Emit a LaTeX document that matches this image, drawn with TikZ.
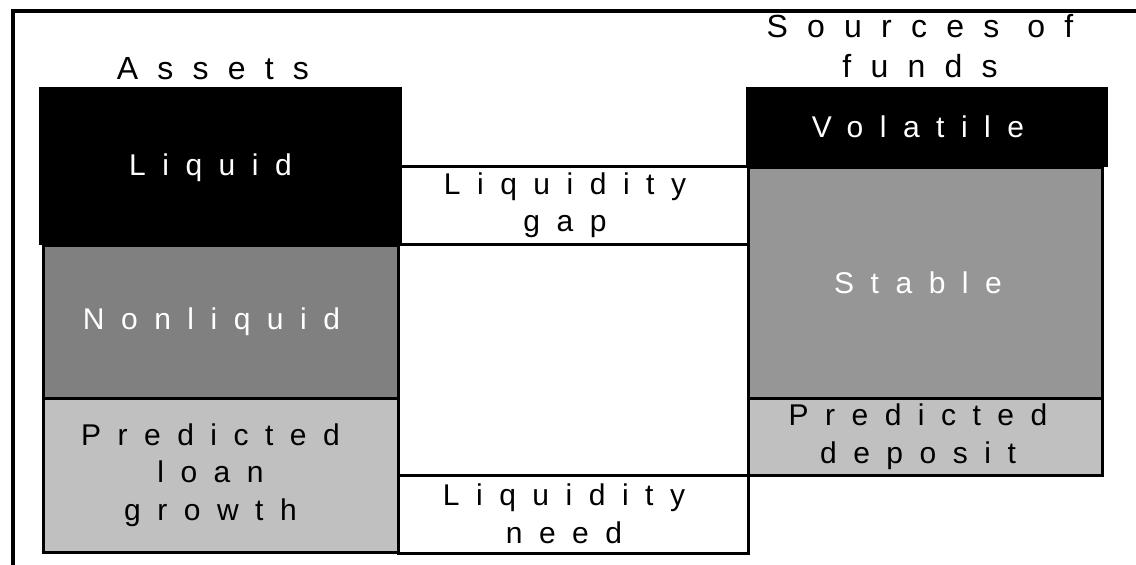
\documentclass[tikz,border=0pt]{standalone}
\usepackage{fontspec}
\setmainfont{Liberation Sans}
\newfontfamily\lsfont[LetterSpace=55]{Liberation Sans}
\newfontfamily\hdfont[LetterSpace=60]{Liberation Sans}
\definecolor{darkgr}{HTML}{808080}
\definecolor{midgr}{HTML}{969696}
\definecolor{lightgr}{HTML}{C0C0C0}
\begin{document}
\begin{tikzpicture}[x=1pt,y=-1pt,
  lbl/.style={font=\lsfont\fontsize{30}{37.5}\selectfont, align=center, inner sep=0pt},
  hdl/.style={font=\hdfont\fontsize{32}{40}\selectfont, align=center, inner sep=0pt},
  cell/.style={rectangle, inner sep=0pt, outer sep=0pt, line width=3pt},
  blackcell/.style={cell, fill=black},
  framed/.style={cell, draw=black},
]
\useasboundingbox (0,0) rectangle (1136,565);
\fill[white] (0,0) rectangle (1136,565);
% outer frame (top and left edges)
\draw[line width=4pt] (12.5,566) -- (12.5,10.5) -- (1137,10.5);
% headings
\node[hdl, anchor=base] (assets) at (213,79) {Assets};
\node[hdl] (sources) at (920,46) {Sources of\\funds};
% middle column
\node[framed, minimum width=350pt, minimum height=231pt] (midcol) at (573,359.5) {};
\node[framed, minimum width=350pt, minimum height=78pt] (need) at (573,514) {};
% assets column
\node[blackcell, minimum width=363pt, minimum height=158pt] (liquid) at (220.5,166) {};
\node[framed, fill=darkgr, minimum width=355pt, minimum height=153pt] (nonliquid) at (220.5,321.5) {};
\node[framed, fill=lightgr, minimum width=355pt, minimum height=154pt] (loan) at (220.5,475) {};
% liquidity gap
\node[framed, fill=white, minimum width=348pt, minimum height=78pt] (gap) at (574,205) {};
% sources column
\node[blackcell, minimum width=362pt, minimum height=80pt] (volatile) at (927,127) {};
\node[framed, fill=midgr, minimum width=354pt, minimum height=231pt] (stable) at (925,282.5) {};
\node[framed, fill=lightgr, minimum width=354pt, minimum height=77pt] (deposit) at (925,436.5) {};
% texts
\node[lbl, text=white] (liquidtxt) at ([xshift=-10pt,yshift=-2pt]liquid.center) {Liquid};
\node[lbl, text=white] (nonliquidtxt) at ([xshift=-9pt]nonliquid.center) {Nonliquid};
\node[lbl] (loantxt) at ([xshift=-10pt]loan.center) {Predicted\\loan\\growth};
\node[lbl] (gaptxt) at ([xshift=-9pt]gap.center) {Liquidity\\gap};
\node[lbl] (needtxt) at ([xshift=-9pt]need.center) {Liquidity\\need};
\node[lbl, text=white] (volatiletxt) at ([xshift=-9pt]volatile.center) {Volatile};
\node[lbl, text=white] (stabletxt) at ([xshift=-7pt]stable.center) {Stable};
\node[lbl] (deposittxt) at ([xshift=-7pt]deposit.center) {Predicted\\deposit};
\end{tikzpicture}
\end{document}
